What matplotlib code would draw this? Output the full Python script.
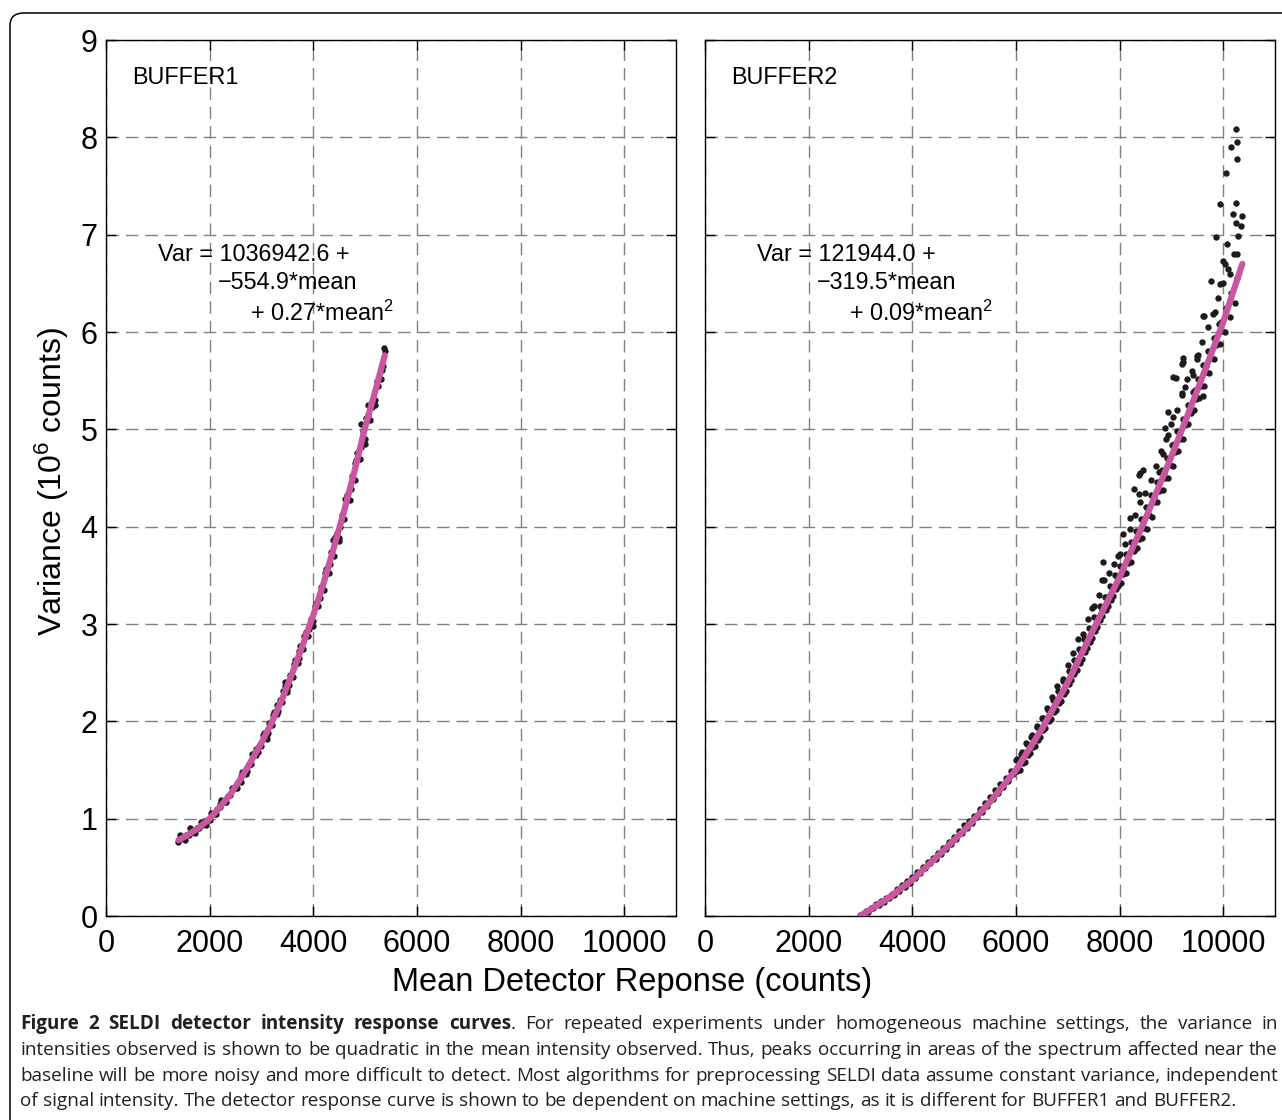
import matplotlib
matplotlib.use("Agg")
import matplotlib.pyplot as plt
from matplotlib.patches import FancyBboxPatch

W, H = 1282, 1120

# ---------------------------------------------------------
# data (mean in counts, variance in 1e6 counts)
# ---------------------------------------------------------
ticks_x = [0, 2000, 4000, 6000, 8000, 10000]
ticks_y = [0, 1, 2, 3, 4, 5, 6, 7, 8, 9]
panel_names = ["BUFFER1", "BUFFER2"]
eq_lines = [
    ["Var = 1036942.6 +", "\u2212554.9*mean", "+ 0.27*mean$^2$"],
    ["Var = 121944.0 +", "\u2212319.5*mean", "+ 0.09*mean$^2$"],
]

# BUFFER1 measurements
b1_mean = [1380, 1420, 1450, 1500, 1550, 1600, 1650, 1700, 1750, 1800,
           1850, 1900, 1950, 2000, 2050, 2100, 2150, 2200, 2250, 2300,
           2350, 2400, 2450, 2500, 2550, 2600, 2650, 2700, 2750, 2800,
           2850, 2900, 2950, 3000, 3050, 3100, 3150, 3200, 3250, 3300,
           3350, 3400, 3450, 3500, 3550, 3600, 3650, 3700, 3750, 3800,
           3850, 3900, 3950, 4000, 4050, 4100, 4150, 4200, 4250, 4300,
           4350, 4400, 4450, 4500, 4550, 4600, 4650, 4700, 4750, 4800,
           4850, 4900, 4950, 5000, 5050, 5100, 5150, 5200, 5250, 5300,
           5350, 5380,
           1900, 2200, 2600, 2900, 3300, 3450, 3720, 4380, 4620, 4800,
           4930, 5050, 5300, 5370, 3100, 3500, 4000, 4500, 5000, 5200]
b1_var = [0.76, 0.79, 0.80, 0.80, 0.83, 0.83, 0.86, 0.86, 0.90, 0.90,
          0.94, 0.95, 0.99, 0.99, 1.05, 1.05, 1.10, 1.12, 1.17, 1.17,
          1.23, 1.24, 1.30, 1.31, 1.38, 1.38, 1.47, 1.46, 1.55, 1.56,
          1.66, 1.65, 1.75, 1.75, 1.88, 1.86, 1.98, 1.96, 2.10, 2.08,
          2.22, 2.20, 2.36, 2.33, 2.48, 2.46, 2.63, 2.60, 2.77, 2.74,
          2.92, 2.88, 3.05, 3.03, 3.22, 3.18, 3.38, 3.35, 3.57, 3.52,
          3.74, 3.70, 3.94, 3.88, 4.12, 4.08, 4.33, 4.27, 4.52, 4.48,
          4.76, 4.70, 4.98, 4.90, 5.15, 5.10, 5.28, 5.30, 5.45, 5.52,
          5.65, 5.80,
          0.98, 1.15, 1.44, 1.72, 2.17, 2.40, 2.72, 3.86, 4.28, 4.65,
          5.05, 5.25, 5.62, 5.84, 1.82, 2.30, 2.98, 3.85, 4.85, 5.25]
b1_extra_mean = [1425, 1525, 1625, 1725, 1825, 1925, 2025, 2125, 2225, 2325,
                 2425, 2525, 2625, 2725, 2825, 2925, 3025, 3125, 3225, 3325,
                 3425, 3525, 3625, 3725, 3825, 3925, 4025, 4125, 4225, 4325,
                 4425, 4525, 4625, 4725, 4825, 4925, 5025, 5125, 5225, 5325]
b1_extra_var = [0.83, 0.78, 0.90, 0.85, 0.97, 0.94, 1.06, 1.05, 1.19, 1.17,
                1.32, 1.32, 1.48, 1.49, 1.66, 1.68, 1.86, 1.88, 2.07, 2.11,
                2.31, 2.37, 2.59, 2.65, 2.88, 2.95, 3.18, 3.27, 3.52, 3.62,
                3.89, 4.00, 4.27, 4.39, 4.68, 4.82, 5.12, 5.23, 5.50, 5.61]

# BUFFER1 quadratic fit curve
fit1_mean = [1400, 1600, 1800, 2000, 2200, 2400, 2600, 2800, 3000, 3200, 3400,
             3600, 3800, 4000, 4200, 4400, 4600, 4800, 5000, 5200, 5380]
fit1_var = [0.78, 0.84, 0.91, 1.00, 1.12, 1.25, 1.41, 1.59, 1.78, 1.99, 2.23,
            2.50, 2.79, 3.09, 3.42, 3.79, 4.17, 4.58, 5.02, 5.40, 5.76]

# BUFFER2 measurements: low, middle and high part of the band, then outliers
b2_low_mean = [3000, 3050, 3100, 3150, 3200, 3250, 3300, 3350, 3400, 3450,
               3500, 3550, 3600, 3650, 3700, 3750, 3800, 3850, 3900, 3950,
               4000, 4050, 4100, 4150, 4200, 4250, 4300, 4350, 4400, 4450,
               4500, 4550, 4600, 4650, 4700, 4750, 4800, 4850, 4900, 4950,
               5000, 5050, 5100, 5150, 5200, 5250, 5300, 5350, 5400, 5450,
               5500, 5550, 5600, 5650, 5700, 5750, 5800, 5850, 5900, 5950]
b2_low_var = [0.01, 0.02, 0.05, 0.04, 0.08, 0.08, 0.12, 0.11, 0.15, 0.14,
              0.19, 0.18, 0.23, 0.22, 0.28, 0.26, 0.32, 0.30, 0.36, 0.34,
              0.40, 0.39, 0.45, 0.44, 0.50, 0.49, 0.55, 0.54, 0.60, 0.59,
              0.65, 0.64, 0.70, 0.69, 0.76, 0.74, 0.81, 0.79, 0.87, 0.85,
              0.93, 0.90, 0.98, 0.96, 1.03, 1.02, 1.10, 1.07, 1.16, 1.13,
              1.22, 1.20, 1.29, 1.26, 1.36, 1.33, 1.42, 1.39, 1.49, 1.46]

b2_mid_mean = [6000, 6030, 6060, 6100, 6130, 6160, 6200, 6230, 6260, 6300,
               6330, 6360, 6400, 6430, 6460, 6500, 6530, 6560, 6600, 6630,
               6660, 6700, 6730, 6760, 6800, 6830, 6860, 6900, 6930, 6960,
               7000, 7030, 7060, 7100, 7130, 7160, 7200, 7230, 7260, 7300,
               7330, 7360, 7400, 7430, 7460, 7500, 7530, 7560, 7600, 7630,
               7660, 7700, 7730, 7760, 7800, 7830, 7860, 7900, 7930, 7960]
b2_mid_var = [1.60, 1.49, 1.57, 1.66, 1.57, 1.66, 1.78, 1.65, 1.73, 1.84,
              1.74, 1.83, 1.95, 1.81, 1.90, 2.03, 1.91, 2.02, 2.14, 2.00,
              2.10, 2.25, 2.10, 2.20, 2.36, 2.19, 2.28, 2.44, 2.28, 2.40,
              2.58, 2.38, 2.50, 2.70, 2.49, 2.60, 2.85, 2.60, 2.72, 2.90,
              2.71, 2.85, 3.05, 2.82, 2.95, 3.18, 2.93, 3.06, 3.30, 3.04,
              3.15, 3.45, 3.14, 3.28, 3.52, 3.25, 3.38, 3.62, 3.36, 3.48]

b2_high_mean = [8000, 8030, 8060, 8100, 8130, 8160, 8200, 8230, 8260, 8300,
                8330, 8360, 8400, 8430, 8460, 8500, 8530, 8560, 8600, 8630,
                8660, 8700, 8730, 8760, 8800, 8830, 8860, 8900, 8930, 8960,
                9000, 9030, 9060, 9100, 9130, 9160, 9200, 9230, 9260, 9300,
                9330, 9360, 9400, 9430, 9460, 9500, 9530, 9560, 9600, 9630,
                9660, 9700, 9730, 9760, 9800, 9830, 9860, 9900, 9930, 9960,
                10000, 10030, 10060, 10100, 10130, 10160, 10200, 10230, 10260]
b2_high_var = [3.72, 3.42, 3.58, 3.82, 3.52, 3.70, 3.98, 3.64, 3.82, 4.12,
               3.78, 3.95, 4.25, 3.88, 4.08, 4.35, 3.98, 4.20, 4.48, 4.10,
               4.30, 4.62, 4.25, 4.45, 4.78, 4.38, 4.55, 4.90, 4.50, 4.70,
               5.05, 4.62, 4.85, 5.20, 4.78, 4.98, 5.35, 4.90, 5.10, 5.52,
               5.05, 5.25, 5.60, 5.20, 5.40, 5.72, 5.32, 5.52, 5.90, 5.45,
               5.65, 6.05, 5.58, 5.80, 6.18, 5.72, 5.95, 6.35, 5.88, 6.10,
               6.50, 6.00, 6.25, 6.65, 6.15, 6.40, 6.80, 6.30, 6.55]

# extra points hugging the curve on both sides (dense part of the band)
b2_band_mean = [6015, 6070, 6115, 6170, 6215, 6270, 6315, 6370, 6415, 6470,
                6515, 6570, 6615, 6670, 6715, 6770, 6815, 6870, 6915, 6970,
                7015, 7070, 7115, 7170, 7215, 7270, 7315, 7370, 7415, 7470,
                7515, 7570, 7615, 7670, 7715, 7770, 7815, 7870, 7915, 7970,
                8015, 8070, 8115, 8170, 8215, 8270, 8315, 8370, 8415, 8470,
                8515, 8570, 8615, 8670, 8715, 8770, 8815, 8870, 8915, 8970,
                9015, 9070, 9115, 9170, 9215, 9270, 9315, 9370, 9415, 9470,
                9515, 9570, 9615, 9670, 9715, 9770, 9815, 9870, 9915, 9970]
b2_band_var = [1.61, 1.50, 1.69, 1.58, 1.77, 1.67, 1.86, 1.75, 1.94, 1.84,
               2.03, 1.93, 2.12, 2.02, 2.22, 2.12, 2.31, 2.21, 2.41, 2.31,
               2.52, 2.42, 2.63, 2.53, 2.74, 2.64, 2.85, 2.75, 2.96, 2.86,
               3.07, 2.97, 3.18, 3.08, 3.28, 3.18, 3.39, 3.29, 3.50, 3.39,
               3.60, 3.51, 3.72, 3.63, 3.84, 3.75, 3.96, 3.87, 4.08, 3.99,
               4.20, 4.12, 4.33, 4.25, 4.46, 4.37, 4.58, 4.50, 4.71, 4.63,
               4.84, 4.77, 4.98, 4.90, 5.11, 5.04, 5.25, 5.17, 5.38, 5.31,
               5.52, 5.45, 5.66, 5.59, 5.80, 5.73, 5.94, 5.87, 6.08, 6.01]

b2_out_mean = [10251, 10276, 10154, 10276, 10052, 9936, 10251, 10187, 10360, 10257,
               10347, 9859, 10295, 10083, 10264, 10006, 10040, 10135, 9762, 9929,
               9620, 9846, 9633, 9511, 9222, 9203, 9215, 9034, 9086, 9491,
               9427, 9266, 9203, 9620, 8944, 9034, 8880, 8944, 8848, 8752,
               8449, 8372, 8282, 8378, 8398, 8205, 8075, 7979, 7690, 7658, 7477]
b2_out_var = [8.09, 7.95, 7.90, 7.78, 7.63, 7.32, 7.33, 7.21, 7.19, 7.12,
              7.09, 6.98, 6.99, 6.90, 6.80, 6.73, 6.70, 6.60, 6.52, 6.49,
              6.16, 6.21, 6.16, 5.76, 5.73, 5.67, 5.69, 5.54, 5.53, 5.75,
              5.56, 5.44, 5.37, 5.34, 5.18, 5.13, 5.01, 4.94, 4.75, 4.56,
              4.58, 4.53, 4.39, 4.34, 4.55, 4.09, 3.92, 3.70, 3.64, 3.45, 3.16]

# BUFFER2 quadratic fit curve
fit2_mean = [2990, 3500, 4000, 4500, 5000, 5500, 6000, 6500, 7000, 7500,
             8000, 8500, 9000, 9500, 10000, 10370]
fit2_var = [0.00, 0.17, 0.37, 0.62, 0.88, 1.17, 1.50, 1.92, 2.40, 2.95,
            3.48, 4.08, 4.72, 5.40, 6.10, 6.70]

b1_all_mean = b1_mean + b1_extra_mean
b1_all_var = b1_var + b1_extra_var
b2_mean = b2_low_mean + b2_mid_mean + b2_high_mean + b2_band_mean + b2_out_mean
b2_var = b2_low_var + b2_mid_var + b2_high_var + b2_band_var + b2_out_var

caption_runs = [
    [("Figure 2 SELDI detector intensity response curves", "bold"),
     (". For repeated experiments under homogeneous machine settings, the variance in", "normal")],
    [("intensities observed is shown to be quadratic in the mean intensity observed. Thus, peaks occurring in areas of the spectrum affected near the", "normal")],
    [("baseline will be more noisy and more difficult to detect. Most algorithms for preprocessing SELDI data assume constant variance, independent", "normal")],
    [("of signal intensity. The detector response curve is shown to be dependent on machine settings, as it is different for BUFFER1 and BUFFER2.", "normal")],
]

# ---------------------------------------------------------
# style
# ---------------------------------------------------------
plt.rcParams["font.family"] = ["Liberation Sans", "DejaVu Sans"]
plt.rcParams["mathtext.fontset"] = "custom"
plt.rcParams["mathtext.rm"] = "Liberation Sans"
plt.rcParams["mathtext.default"] = "regular"

DOT = "#1f1b1c"
PINK = "#c8579f"
GRID = "#808080"

fig = plt.figure(figsize=(W / 100, H / 100), dpi=100)
fig.patch.set_facecolor("white")


def fx(px):
    return px / W


def fy(py):
    return 1 - py / H


# rounded frame around the figure
fig.patches.append(FancyBboxPatch((fx(10), fy(1150)), fx(1300) - fx(10), fy(13) - fy(1150),
                                  boxstyle="round,pad=0,rounding_size=0.011",
                                  transform=fig.transFigure, fill=False,
                                  edgecolor="black", linewidth=1.1))

axes = [fig.add_axes([fx(106), fy(916), fx(570), 876 / H]),
        fig.add_axes([fx(705), fy(916), fx(570), 876 / H])]

series = [(b1_all_mean, b1_all_var, fit1_mean, fit1_var),
          (b2_mean, b2_var, fit2_mean, fit2_var)]

for i, ax in enumerate(axes):
    mx, vy, fitx, fity = series[i]
    ax.plot(mx, vy, "o", color=DOT, ms=4.6, mew=0, zorder=3)
    ax.plot(fitx, fity, "-", color=PINK, lw=4.5, solid_capstyle="round", zorder=4)

    ax.set_xlim(0, 11000)
    ax.set_ylim(0, 9)
    ax.set_xticks(ticks_x)
    ax.set_yticks(ticks_y)
    ax.set_xticklabels([str(t) for t in ticks_x])
    if i == 0:
        ax.set_yticklabels([str(t) for t in ticks_y])
    else:
        ax.set_yticklabels([])
    ax.tick_params(direction="in", top=True, right=True, length=7, width=1,
                   labelsize=22, colors="black")
    ax.tick_params(axis="x", pad=9)
    ax.tick_params(axis="y", pad=6)
    ax.grid(True, color=GRID, lw=1.0, dashes=(9, 5))
    ax.set_axisbelow(True)
    for s in ax.spines.values():
        s.set_linewidth(1.0)

    ax.text(500, 8.61, panel_names[i], fontsize=16.8, va="center", ha="left")
    ax.text(1000, 6.73, eq_lines[i][0], fontsize=16.8, va="baseline", ha="left")
    ax.text(2150, 6.44, eq_lines[i][1], fontsize=16.8, va="baseline", ha="left")
    ax.text(2780, 6.11, eq_lines[i][2], fontsize=16.8, va="baseline", ha="left")

fig.text(fx(52), fy(482), "Variance (10$^6$ counts)", rotation=90,
         fontsize=23, ha="center", va="center")
fig.text(fx(632), fy(982), "Mean Detector Reponse (counts)",
         fontsize=23.5, ha="center", va="center")

# ---------------------------------------------------------
# caption, justified between x=20 and x=1278 px
# ---------------------------------------------------------
renderer = fig.canvas.get_renderer()
CAP_FONT = ["Open Sans", "DejaVu Sans"]


def to_words(runs):
    words = [[]]
    for text, weight in runs:
        parts = text.split(" ")
        for k, p in enumerate(parts):
            if k > 0:
                words.append([])
            if p:
                words[-1].append((p, weight))
    return [w for w in words if w]


def piece_width(text, weight, size):
    t = fig.text(0, 0, text, fontsize=size, fontweight=weight, family=CAP_FONT)
    w = t.get_window_extent(renderer).width
    t.remove()
    return w


def space_width(size):
    return piece_width("a a", "normal", size) - piece_width("aa", "normal", size)


# pick size so the last (unjustified) line spans 20..1232 px
ref_words = to_words(caption_runs[3])
ref = sum(piece_width(p, wt, 12) for w in ref_words for p, wt in w) + (len(ref_words) - 1) * space_width(12)
cap_size = 12 * (1212 / ref)

baselines = [1029, 1055, 1081, 1106]
for li, runs in enumerate(caption_runs):
    words = to_words(runs)
    widths = [[piece_width(p, wt, cap_size) for p, wt in w] for w in words]
    total = sum(sum(w) for w in widths)
    if li < len(caption_runs) - 1:
        gap = (1258 - total) / (len(words) - 1)
    else:
        gap = space_width(cap_size)
    x = 20
    for w, ws in zip(words, widths):
        for (p, wt), pw in zip(w, ws):
            fig.text(fx(x), fy(baselines[li]), p, fontsize=cap_size, fontweight=wt,
                     family=CAP_FONT, va="baseline", ha="left", color="#231f20")
            x += pw
        x += gap

fig.savefig("out.png", dpi=100)
